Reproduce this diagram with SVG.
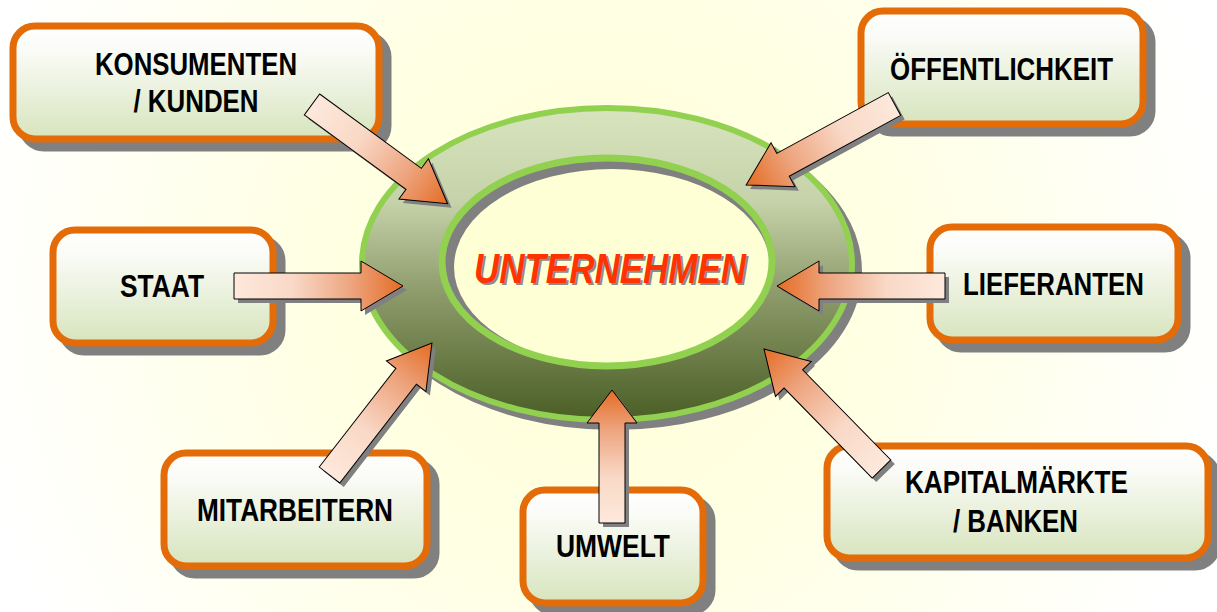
<svg xmlns="http://www.w3.org/2000/svg" xmlns:xlink="http://www.w3.org/1999/xlink" width="1217" height="612" viewBox="0 0 1217 612">
  <defs>
    <radialGradient id="bg" cx="600" cy="290" r="640" gradientUnits="userSpaceOnUse">
      <stop offset="0" stop-color="#ffffd8"/>
      <stop offset="0.45" stop-color="#ffffe4"/>
      <stop offset="1" stop-color="#ffffff"/>
    </radialGradient>
    <linearGradient id="boxFill" x1="0" y1="0" x2="0" y2="1">
      <stop offset="0" stop-color="#ffffff"/>
      <stop offset="0.2" stop-color="#fbfcf8"/>
      <stop offset="1" stop-color="#d7e4bd"/>
    </linearGradient>
    <linearGradient id="ringFill" x1="0" y1="0" x2="0" y2="1">
      <stop offset="0" stop-color="#d7e4bd"/>
      <stop offset="0.3" stop-color="#c6d2a9"/>
      <stop offset="0.6" stop-color="#8c9a6a"/>
      <stop offset="1" stop-color="#4a5e25"/>
    </linearGradient>
    <linearGradient id="arrowFill" x1="0" y1="0" x2="1" y2="0">
      <stop offset="0" stop-color="#fde9dc"/>
      <stop offset="0.35" stop-color="#f9d8c6"/>
      <stop offset="0.7" stop-color="#eda47e"/>
      <stop offset="1" stop-color="#e46c24"/>
    </linearGradient>
    <style>
      .box { fill: url(#boxFill); stroke: #e36c09; stroke-width: 7; }
      .boxShadow { fill: #808080; stroke: #808080; stroke-width: 7; }
      .label { font-family: "Liberation Sans", Arial, sans-serif; font-weight: bold; font-size: 32px; fill: #000000; text-anchor: middle; }
      .arrow { fill: url(#arrowFill); stroke: #000000; stroke-width: 1; }
      .arrowShadow { fill: #808080; }
      .title { font-family: "Liberation Sans", Arial, sans-serif; font-weight: bold; font-style: italic; font-size: 42px; text-anchor: middle; }
    </style>
    <path id="a168" d="M0,-13 H126 V-25 L168,0 L126,25 V13 H0 Z"/>
    <path id="a169" d="M0,-13 H127 V-25 L169,0 L127,25 V13 H0 Z"/>
    <path id="a167" d="M0,-13 H125 V-25 L167,0 L125,25 V13 H0 Z"/>
    <path id="a133" d="M0,-13 H100 V-25 L133,0 L100,25 V13 H0 Z"/>
  </defs>

  <rect x="0" y="0" width="1217" height="612" fill="url(#bg)"/>

  <g id="node-konsumenten">
    <rect class="boxShadow" x="22" y="35" width="366" height="113" rx="22"/>
    <rect class="box" x="13" y="26" width="366" height="113" rx="22"/>
    <text class="label" x="196" y="75" textLength="202" lengthAdjust="spacingAndGlyphs">KONSUMENTEN</text>
    <text class="label" x="196" y="112" textLength="125" lengthAdjust="spacingAndGlyphs">/ KUNDEN</text>
  </g>

  <g id="node-oeffentlichkeit">
    <rect class="boxShadow" x="870" y="20" width="282" height="113" rx="22"/>
    <rect class="box" x="861" y="11" width="282" height="113" rx="22"/>
    <text class="label" x="1001.5" y="80" textLength="223" lengthAdjust="spacingAndGlyphs">ÖFFENTLICHKEIT</text>
  </g>

  <g id="node-staat">
    <rect class="boxShadow" x="62" y="239" width="220" height="113" rx="22"/>
    <rect class="box" x="53" y="230" width="220" height="113" rx="22"/>
    <text class="label" x="162" y="297" textLength="84" lengthAdjust="spacingAndGlyphs">STAAT</text>
  </g>

  <g id="node-lieferanten">
    <rect class="boxShadow" x="939" y="236" width="248" height="113" rx="22"/>
    <rect class="box" x="930" y="227" width="248" height="113" rx="22"/>
    <text class="label" x="1053.5" y="295" textLength="181" lengthAdjust="spacingAndGlyphs">LIEFERANTEN</text>
  </g>

  <g id="node-mitarbeitern">
    <rect class="boxShadow" x="173" y="462" width="263" height="113" rx="22"/>
    <rect class="box" x="164" y="453" width="263" height="113" rx="22"/>
    <text class="label" x="295" y="521" textLength="196" lengthAdjust="spacingAndGlyphs">MITARBEITERN</text>
  </g>

  <g id="node-umwelt">
    <rect class="boxShadow" x="532" y="499" width="180" height="113" rx="22"/>
    <rect class="box" x="523" y="490" width="180" height="113" rx="22"/>
    <text class="label" x="613" y="557" textLength="114" lengthAdjust="spacingAndGlyphs">UMWELT</text>
  </g>

  <g id="node-kapitalmaerkte">
    <rect class="boxShadow" x="836" y="455" width="381" height="112" rx="22"/>
    <rect class="box" x="827" y="446" width="381" height="112" rx="22"/>
    <text class="label" x="1016.5" y="493" textLength="223" lengthAdjust="spacingAndGlyphs">KAPITALMÄRKTE</text>
    <text class="label" x="1015.5" y="532" textLength="125" lengthAdjust="spacingAndGlyphs">/ BANKEN</text>
  </g>

  <g id="node-unternehmen">
    <ellipse cx="614" cy="271" rx="245" ry="156" fill="#808080" stroke="#808080" stroke-width="6"/>
    <ellipse cx="607" cy="264" rx="245" ry="156" fill="url(#ringFill)" stroke="#92d050" stroke-width="6"/>
    <ellipse cx="607" cy="262" rx="165" ry="104" fill="#808080"/>
    <ellipse cx="612" cy="267" rx="158" ry="98" fill="#ffffd6"/>
    <ellipse cx="607" cy="262" rx="165" ry="104" fill="none" stroke="#92d050" stroke-width="7"/>
    <text class="title" x="612" y="285" fill="#8c8c8c" textLength="272" lengthAdjust="spacingAndGlyphs">UNTERNEHMEN</text>
    <text class="title" x="610" y="283" fill="#ff3300" textLength="272" lengthAdjust="spacingAndGlyphs">UNTERNEHMEN</text>
  </g>

  <g id="connectors">
    <use xlink:href="#a168" href="#a168" class="arrowShadow" transform="translate(316,108.5) rotate(36.19)"/>
    <use xlink:href="#a168" href="#a168" class="arrow" transform="translate(312,104.5) rotate(36.19)"/>
    <use xlink:href="#a169" href="#a169" class="arrowShadow" transform="translate(898.5,108) rotate(151.39)"/>
    <use xlink:href="#a169" href="#a169" class="arrow" transform="translate(894.5,104) rotate(151.39)"/>
    <use xlink:href="#a169" href="#a169" class="arrowShadow" transform="translate(238,290)"/>
    <use xlink:href="#a169" href="#a169" class="arrow" transform="translate(234,286)"/>
    <use xlink:href="#a168" href="#a168" class="arrowShadow" transform="translate(949,290) rotate(180)"/>
    <use xlink:href="#a168" href="#a168" class="arrow" transform="translate(945,286) rotate(180)"/>
    <use xlink:href="#a167" href="#a167" class="arrowShadow" transform="translate(333.5,479) rotate(-52.17)"/>
    <use xlink:href="#a167" href="#a167" class="arrow" transform="translate(329.5,475) rotate(-52.17)"/>
    <use xlink:href="#a133" href="#a133" class="arrowShadow" transform="translate(616,527) rotate(-90)"/>
    <use xlink:href="#a133" href="#a133" class="arrow" transform="translate(612,523) rotate(-90)"/>
    <use xlink:href="#a168" href="#a168" class="arrowShadow" transform="translate(885.5,473) rotate(-134.4)"/>
    <use xlink:href="#a168" href="#a168" class="arrow" transform="translate(881.5,469) rotate(-134.4)"/>
  </g>
</svg>
